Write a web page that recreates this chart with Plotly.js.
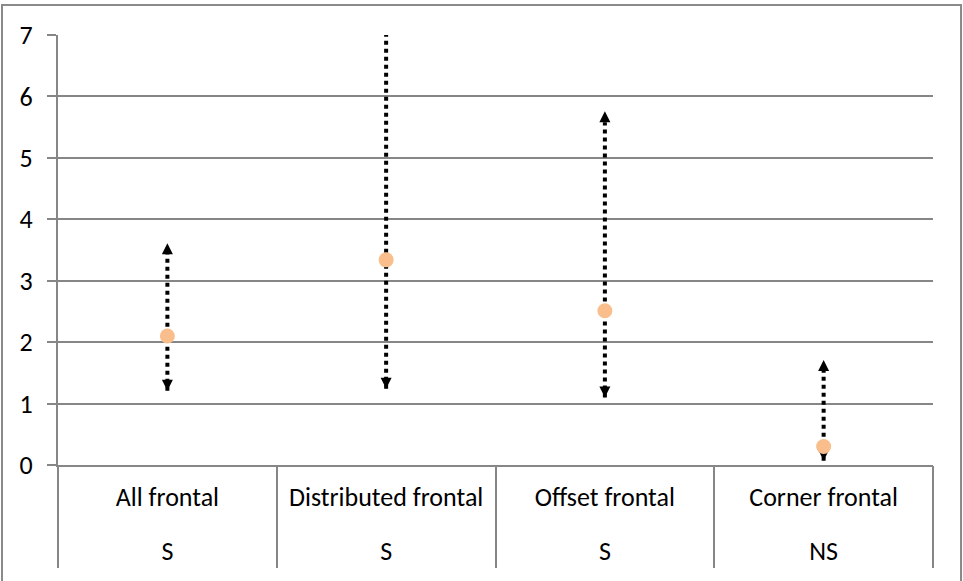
<!DOCTYPE html>
<html><head><meta charset="utf-8">
<script src="https://cdn.plot.ly/plotly-3.0.1.min.js"></script>
<style>
html,body{margin:0;padding:0;background:#fff;overflow:hidden}
#chart{width:963px;height:581px;}
#frame{position:absolute;left:1px;top:4px;width:961px;height:590px;border:2px solid #8a8a8a;box-sizing:border-box;pointer-events:none}
</style></head><body>
<div id="chart"></div><div id="frame"></div>
<script>
const categories = ['All frontal', 'Distributed frontal', 'Offset frontal', 'Corner frontal'];
const significance = ['S', 'S', 'S', 'NS'];
const medians = [2.10, 3.34, 2.51, 0.30];
const lowerBounds = [1.21, 1.24, 1.10, 0.07];
const upperBounds = [3.61, 7.6, 5.76, 1.71];
const yTicks = [0, 1, 2, 3, 4, 5, 6, 7];

const FONT = 'Carlito, Calibri, "Open Sans", sans-serif';
const GRAY = '#868686';

const traces = [];
categories.forEach((c, i) => {
  traces.push({
    type: 'scatter', x: [c, c], y: [lowerBounds[i], upperBounds[i]],
    mode: 'lines+markers',
    line: {color: '#000', width: 4, dash: '4px,4px'},
    marker: {symbol: ['arrow-down', 'arrow-up'], size: 11, color: '#000'},
    cliponaxis: true, showlegend: false, hoverinfo: 'skip'
  });
});
traces.push({
  type: 'scatter', x: categories, y: medians, mode: 'markers',
  marker: {size: 15, color: '#F9BE8C'}, showlegend: false, cliponaxis: true
});
['x2', 'x3'].forEach(ax => traces.push({
  type: 'scatter', x: categories, y: medians, xaxis: ax, mode: 'markers',
  marker: {opacity: 0}, showlegend: false, hoverinfo: 'skip'
}));

const tickfont = {family: FONT, size: 26, color: '#000'};
const layout = {
  width: 963, height: 581,
  margin: {l: 58, r: 30, t: 35, b: 116},
  paper_bgcolor: '#fff', plot_bgcolor: '#fff',
  xaxis: {
    type: 'category', range: [-0.5, 3.5], showline: true, linecolor: GRAY, linewidth: 2,
    ticks: '', showgrid: false, zeroline: false, tickfont: tickfont, ticklabelstandoff: 8,
    fixedrange: true
  },
  xaxis2: {
    type: 'category', overlaying: 'x', side: 'bottom', range: [-0.5, 3.5],
    tickson: 'boundaries', ticks: 'outside', ticklen: 102, tickwidth: 2, tickcolor: GRAY,
    showticklabels: false, showgrid: false, showline: false, zeroline: false, fixedrange: true
  },
  xaxis3: {
    type: 'category', overlaying: 'x', side: 'bottom', range: [-0.5, 3.5],
    ticks: '', tickmode: 'array', tickvals: categories, ticktext: significance,
    tickfont: tickfont, ticklabelstandoff: 68,
    showgrid: false, showline: false, zeroline: false, fixedrange: true
  },
  yaxis: {
    range: [0, 7], tickmode: 'array', tickvals: yTicks, showgrid: true, gridcolor: GRAY, gridwidth: 2,
    showline: true, linecolor: GRAY, linewidth: 2, ticks: 'outside', ticklen: 9, tickwidth: 2,
    tickcolor: GRAY, tickfont: tickfont, ticklabelstandoff: 9, zeroline: false, fixedrange: true
  }
};
Plotly.newPlot('chart', traces, layout, {displayModeBar: false, staticPlot: true});
</script>
</body></html>
